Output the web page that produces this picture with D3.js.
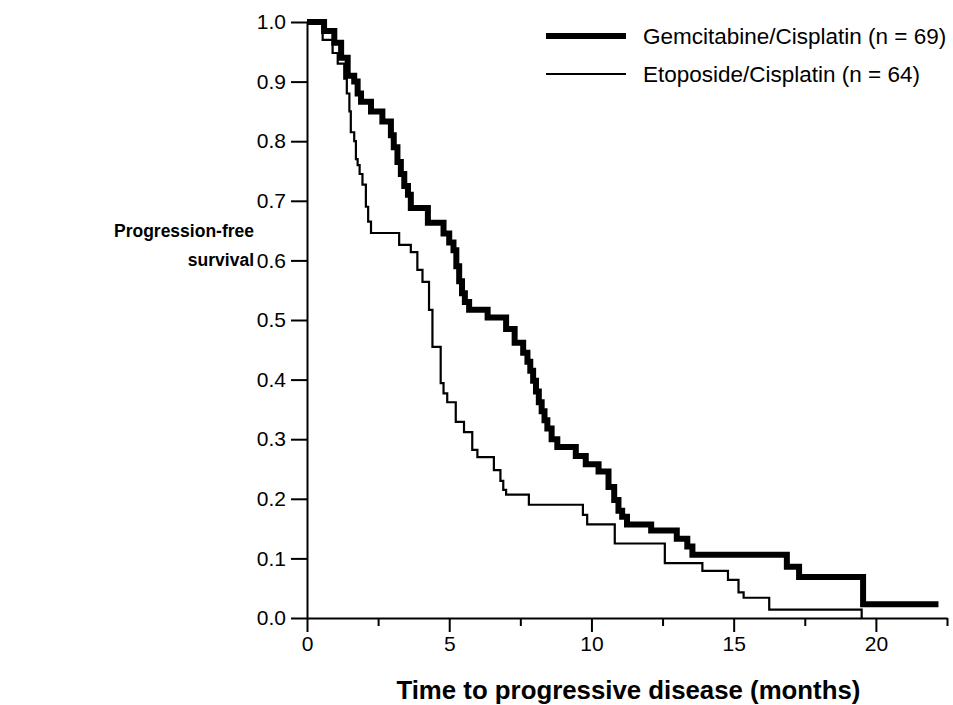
<!DOCTYPE html>
<html>
<head>
<meta charset="utf-8">
<script src="https://cdn.jsdelivr.net/npm/d3@7"></script>
<style>
  body { margin: 0; background: #fff; }
  text { font-family: "Liberation Sans", Arial, sans-serif; fill: #000; }
</style>
</head>
<body>
<div id="chart"></div>
<script>
// Kaplan-Meier step data (time in months, survival proportion)
var gcTimes = [0, 0.6, 0.96, 1.2, 1.43, 1.66, 1.78, 1.9, 2.25, 2.65, 2.95, 3.05, 3.18, 3.3, 3.42, 3.55, 3.65, 4.25, 4.8, 5.0, 5.15, 5.25, 5.35, 5.45, 5.55, 5.7, 6.35, 7.0, 7.3, 7.6, 7.75, 7.85, 7.95, 8.05, 8.15, 8.25, 8.35, 8.45, 8.6, 8.8, 9.45, 9.8, 10.25, 10.6, 10.8, 10.95, 11.08, 11.25, 12.1, 13.0, 13.37, 13.55, 16.87, 17.3, 19.55];
var gcSurv  = [1.0, 0.985, 0.965, 0.94, 0.91, 0.9, 0.88, 0.866, 0.85, 0.833, 0.81, 0.79, 0.765, 0.745, 0.725, 0.71, 0.688, 0.663, 0.645, 0.63, 0.617, 0.59, 0.565, 0.545, 0.53, 0.517, 0.504, 0.485, 0.462, 0.445, 0.43, 0.415, 0.398, 0.38, 0.362, 0.347, 0.332, 0.318, 0.30, 0.287, 0.272, 0.258, 0.246, 0.22, 0.198, 0.18, 0.17, 0.157, 0.147, 0.133, 0.12, 0.106, 0.086, 0.069, 0.023];
var gcLastTime = 22.2;

var ecTimes = [0, 0.55, 0.9, 1.08, 1.31, 1.4, 1.49, 1.54, 1.66, 1.72, 1.78, 1.85, 1.95, 2.07, 2.15, 2.25, 3.24, 3.65, 3.88, 4.06, 4.29, 4.41, 4.70, 4.8, 4.93, 5.23, 5.52, 5.81, 5.99, 6.57, 6.8, 6.9, 7.0, 7.8, 9.7, 9.85, 10.82, 12.58, 13.9, 14.8, 15.17, 15.35, 16.25, 19.5];
var ecSurv  = [1.0, 0.97, 0.948, 0.93, 0.905, 0.88, 0.85, 0.815, 0.8, 0.77, 0.76, 0.745, 0.727, 0.69, 0.665, 0.646, 0.626, 0.614, 0.584, 0.564, 0.517, 0.455, 0.394, 0.377, 0.362, 0.329, 0.312, 0.282, 0.27, 0.248, 0.23, 0.215, 0.207, 0.19, 0.173, 0.157, 0.125, 0.092, 0.079, 0.064, 0.043, 0.034, 0.014, 0.0];

var legendLabels = ["Gemcitabine/Cisplatin (n = 69)", "Etoposide/Cisplatin (n = 64)"];
var xTickValues = [0, 2.5, 5, 7.5, 10, 12.5, 15, 17.5, 20, 22.5];
var xTickLabels = ["0", "", "5", "", "10", "", "15", "", "20", ""];
var yTickValues = [0, 0.1, 0.2, 0.3, 0.4, 0.5, 0.6, 0.7, 0.8, 0.9, 1.0];
var yLabelLines = ["Progression-free", "survival"];
var xTitle = "Time to progressive disease (months)";

var svgWidth = 953;
var svgHeight = 705;

var margin = {
  top: 22,
  right: 6,
  bottom: 87,
  left: 307
};

var width = svgWidth - margin.left - margin.right;
var height = svgHeight - margin.top - margin.bottom;

var svg = d3.select("#chart")
  .append("svg")
  .attr("width", svgWidth)
  .attr("height", svgHeight);

var chartGroup = svg.append("g")
  .attr("transform", `translate(${margin.left}, ${margin.top})`);

// scales
var xScale = d3.scaleLinear()
  .domain([0, 22.5])
  .range([0, width]);

var yScale = d3.scaleLinear()
  .domain([0, 1])
  .range([height, 0]);

// axes
var bottomAxis = d3.axisBottom(xScale)
  .tickValues(xTickValues)
  .tickFormat((d, i) => xTickLabels[i])
  .tickSize(14)
  .tickSizeOuter(0)
  .tickPadding(4);

var leftAxis = d3.axisLeft(yScale)
  .tickValues(yTickValues)
  .tickFormat(d3.format(".1f"))
  .tickSize(16)
  .tickSizeOuter(0)
  .tickPadding(5);

var xAxis = chartGroup.append("g")
  .attr("transform", `translate(0, ${height})`)
  .call(bottomAxis);

// minor ticks are shorter
xAxis.selectAll(".tick line")
  .attr("y2", (d, i) => xTickLabels[i] === "" ? 8 : 14);

var yAxis = chartGroup.append("g")
  .call(leftAxis);

[xAxis, yAxis].forEach(function(ax) {
  ax.select(".domain").attr("stroke-width", 2);
  ax.selectAll(".tick line").attr("stroke-width", 2);
  ax.selectAll(".tick text")
    .attr("font-size", "21px")
    .attr("font-family", "'Liberation Sans', Arial, sans-serif");
});

// survival curves
var kmLine = d3.line()
  .x(d => xScale(d[0]))
  .y(d => yScale(d[1]))
  .curve(d3.curveStepAfter);

var gcData = gcTimes.map((t, i) => [t, gcSurv[i]]);
gcData.push([gcLastTime, gcSurv[gcSurv.length - 1]]);

var ecData = ecTimes.map((t, i) => [t, ecSurv[i]]);

chartGroup.append("path")
  .datum(ecData)
  .attr("fill", "none")
  .attr("stroke", "#000")
  .attr("stroke-width", 2.2)
  .attr("d", kmLine);

chartGroup.append("path")
  .datum(gcData)
  .attr("fill", "none")
  .attr("stroke", "#000")
  .attr("stroke-width", 6)
  .attr("stroke-linejoin", "miter")
  .attr("d", kmLine);

// legend
var legend = svg.append("g")
  .attr("transform", "translate(546, 36)");

legendLabels.forEach(function(label, i) {
  var row = legend.append("g")
    .attr("transform", `translate(0, ${i * 38})`);
  row.append("line")
    .attr("x1", 0)
    .attr("x2", 80)
    .attr("stroke", "#000")
    .attr("stroke-width", i === 0 ? 6 : 2.2);
  row.append("text")
    .attr("x", 97)
    .attr("dy", "0.35em")
    .attr("font-size", "22.5px")
    .text(label);
});

// axis titles
var yLabel = svg.append("text")
  .attr("text-anchor", "end")
  .attr("font-weight", "bold")
  .attr("font-size", "17.5px")
  .attr("transform", "translate(254, 237)");

yLabel.selectAll("tspan")
  .data(yLabelLines)
  .enter()
  .append("tspan")
  .attr("x", 0)
  .attr("dy", (d, i) => i === 0 ? 0 : "1.65em")
  .text(d => d);

svg.append("text")
  .attr("x", margin.left + xScale(11.3))
  .attr("y", 699)
  .attr("text-anchor", "middle")
  .attr("font-weight", "bold")
  .attr("font-size", "25.8px")
  .text(xTitle);
</script>
</body>
</html>
